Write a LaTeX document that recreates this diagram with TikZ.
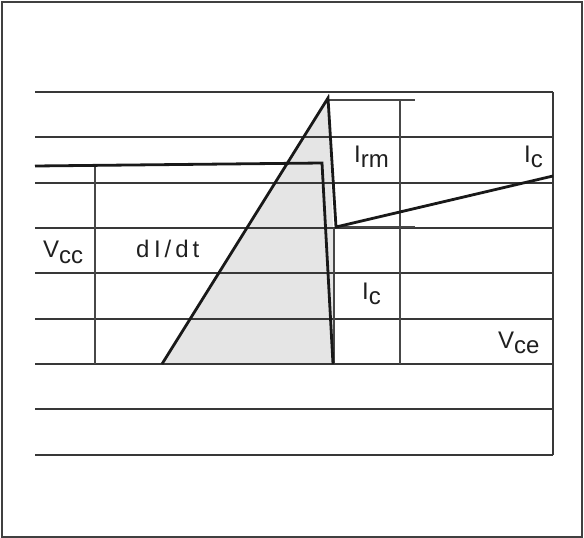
\documentclass[tikz,border=0pt]{standalone}
\usepackage{fontspec}
\setmainfont{Liberation Sans}
\begin{document}
\begin{tikzpicture}[x=1pt,y=-1pt,
  grid/.style={draw=black!78,line width=1.3pt},
  thin/.style={draw=black!72,line width=1.2pt},
  curve/.style={draw=black!90,line width=2.8pt,line join=miter},
  lbl/.style={inner sep=0pt,anchor=base west,font=\fontsize{24}{28}\selectfont,text=black!88}]
\useasboundingbox (0,0) rectangle (584,538);
\draw[draw=black!75,line width=1.3pt] (2,2) rectangle (582,537);
% shaded area
\fill[black!10] (162,364) -- (328,98) -- (333,228) -- (334,364) -- cycle;
% grid
\foreach \y in {92,137,183,228,273,319,364,409,455}
  \draw[grid] (35,\y) -- (553,\y);
\draw[grid] (553,92) -- (553,455);
\draw[thin] (95,166) -- (95,364);
\draw[thin] (400,100) -- (400,364);
\draw[thin] (328,100) -- (415,100);
\draw[thin] (336,227) -- (415,227);
\draw[thin] (334,228) -- (334,364);
% curves
\draw[curve] (35,166) -- (322,163) -- (333,364);
\draw[curve] (162,364) -- (328,98) -- (336,227) -- (553,176);
% labels
\node[lbl] (vcc) at (43,257) {V\raisebox{-6pt}{cc}};
\node[lbl] (didt) at (136,257) {d\kern4.5pt I\kern4pt/\kern4pt d\kern4pt t};
\node[lbl] (irm) at (354,162) {I\raisebox{-5pt}{rm}};
\node[lbl] (ic1) at (524,162) {I\raisebox{-5pt}{c}};
\node[lbl] (ic2) at (362,299) {I\raisebox{-5pt}{c}};
\node[lbl] (vce) at (498,348) {V\raisebox{-5pt}{ce}};
\end{tikzpicture}
\end{document}
